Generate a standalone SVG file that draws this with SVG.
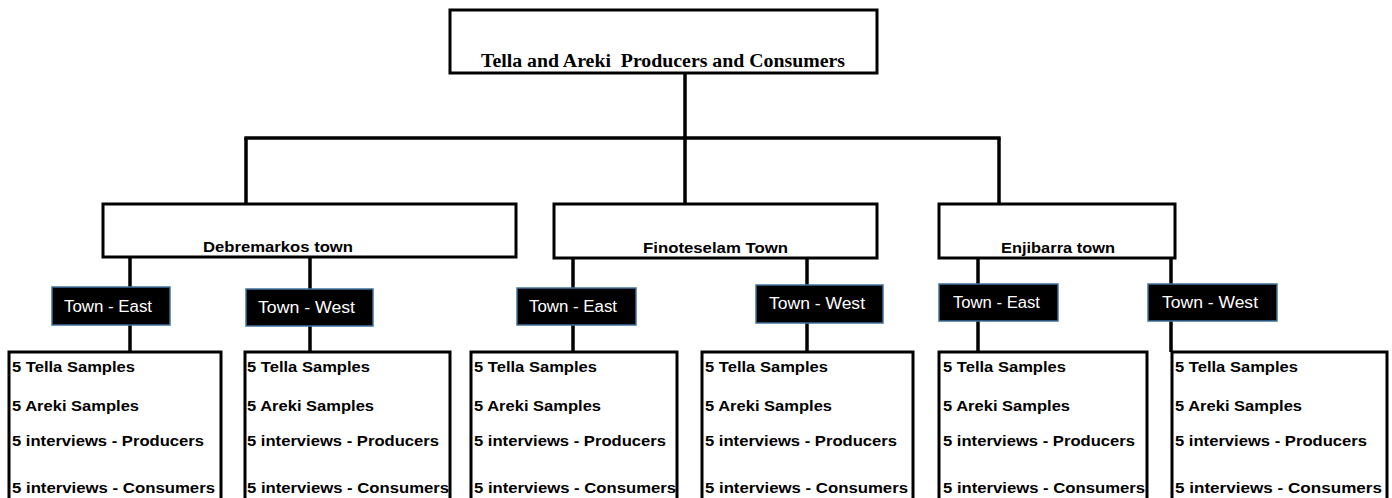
<svg xmlns="http://www.w3.org/2000/svg" width="1392" height="498" viewBox="0 0 1392 498">
<style>
.box{fill:#fff;stroke:#000;stroke-width:3}
.tbox{fill:#000;stroke:#41719C;stroke-width:1.5}
.conn line{stroke:#000;stroke-width:3.5}
.title{font-family:"Liberation Serif",serif;font-weight:bold;font-size:18px;fill:#000}
.lbl{font-family:"Liberation Sans",Arial,sans-serif;font-weight:bold;font-size:15px;fill:#000}
.tlbl{font-family:"Liberation Sans",Arial,sans-serif;font-size:16px;fill:#fff}
</style>
<rect width="1392" height="498" fill="#fff"/>
<g id="connectors" class="conn">
<line x1="685" y1="73" x2="685" y2="204"/>
<line x1="244.3" y1="138" x2="1000.7" y2="138"/>
<line x1="246" y1="138" x2="246" y2="204"/>
<line x1="999" y1="138" x2="999" y2="204"/>
<line x1="130" y1="256" x2="130" y2="352"/>
<line x1="310" y1="256" x2="310" y2="352"/>
<line x1="573" y1="256" x2="573" y2="352"/>
<line x1="807" y1="256" x2="807" y2="352"/>
<line x1="978" y1="256" x2="978" y2="352"/>
<line x1="1171" y1="256" x2="1171" y2="352"/>
</g>
<g id="root">
<rect class="box" x="450" y="10" width="427" height="63"/>
<text class="title" x="481" y="67" textLength="364" lengthAdjust="spacingAndGlyphs" xml:space="preserve">Tella and Areki  Producers and Consumers</text>
</g>
<g id="debremarkos">
<rect class="box" x="103" y="204" width="413" height="53"/>
<text class="lbl" x="203" y="252" font-size="16" textLength="150" lengthAdjust="spacingAndGlyphs">Debremarkos town</text>
</g>
<g id="finoteselam">
<rect class="box" x="554" y="204" width="323" height="54"/>
<text class="lbl" x="643" y="253" font-size="16" textLength="145" lengthAdjust="spacingAndGlyphs">Finoteselam Town</text>
</g>
<g id="enjibarra">
<rect class="box" x="939" y="204" width="236" height="54"/>
<text class="lbl" x="1001" y="253" font-size="16" textLength="114" lengthAdjust="spacingAndGlyphs">Enjibarra town</text>
</g>
<g id="d-east">
<rect class="tbox" x="52" y="287" width="118" height="38"/>
<text class="tlbl" x="64" y="312" textLength="88" lengthAdjust="spacingAndGlyphs">Town - East</text>
</g>
<g id="d-west">
<rect class="tbox" x="246" y="289" width="127" height="37"/>
<text class="tlbl" x="258" y="313" textLength="97" lengthAdjust="spacingAndGlyphs">Town - West</text>
</g>
<g id="f-east">
<rect class="tbox" x="517" y="288" width="119" height="37"/>
<text class="tlbl" x="529" y="312" textLength="88" lengthAdjust="spacingAndGlyphs">Town - East</text>
</g>
<g id="f-west">
<rect class="tbox" x="756" y="285" width="127" height="38"/>
<text class="tlbl" x="769" y="309" textLength="96" lengthAdjust="spacingAndGlyphs">Town - West</text>
</g>
<g id="e-east">
<rect class="tbox" x="939" y="284" width="119" height="37"/>
<text class="tlbl" x="953" y="308" textLength="87" lengthAdjust="spacingAndGlyphs">Town - East</text>
</g>
<g id="e-west">
<rect class="tbox" x="1148" y="284" width="129" height="37"/>
<text class="tlbl" x="1162" y="308" textLength="96" lengthAdjust="spacingAndGlyphs">Town - West</text>
</g>
<g id="s1">
<rect class="box" x="9" y="352" width="212" height="160"/>
<text class="lbl" x="12" y="372" textLength="123" lengthAdjust="spacingAndGlyphs">5 Tella Samples</text>
<text class="lbl" x="12" y="411" textLength="127" lengthAdjust="spacingAndGlyphs">5 Areki Samples</text>
<text class="lbl" x="12" y="446" textLength="192" lengthAdjust="spacingAndGlyphs">5 interviews - Producers</text>
<text class="lbl" x="12" y="493" textLength="203" lengthAdjust="spacingAndGlyphs">5 interviews - Consumers</text>
</g>
<g id="s2">
<rect class="box" x="245" y="352" width="205" height="160"/>
<text class="lbl" x="247" y="372" textLength="123" lengthAdjust="spacingAndGlyphs">5 Tella Samples</text>
<text class="lbl" x="247" y="411" textLength="127" lengthAdjust="spacingAndGlyphs">5 Areki Samples</text>
<text class="lbl" x="247" y="446" textLength="192" lengthAdjust="spacingAndGlyphs">5 interviews - Producers</text>
<text class="lbl" x="247" y="493" textLength="202" lengthAdjust="spacingAndGlyphs">5 interviews - Consumers</text>
</g>
<g id="s3">
<rect class="box" x="471" y="352" width="206" height="160"/>
<text class="lbl" x="474" y="372" textLength="123" lengthAdjust="spacingAndGlyphs">5 Tella Samples</text>
<text class="lbl" x="474" y="411" textLength="127" lengthAdjust="spacingAndGlyphs">5 Areki Samples</text>
<text class="lbl" x="474" y="446" textLength="192" lengthAdjust="spacingAndGlyphs">5 interviews - Producers</text>
<text class="lbl" x="474" y="493" textLength="202" lengthAdjust="spacingAndGlyphs">5 interviews - Consumers</text>
</g>
<g id="s4">
<rect class="box" x="702" y="352" width="211" height="160"/>
<text class="lbl" x="705" y="372" textLength="123" lengthAdjust="spacingAndGlyphs">5 Tella Samples</text>
<text class="lbl" x="705" y="411" textLength="127" lengthAdjust="spacingAndGlyphs">5 Areki Samples</text>
<text class="lbl" x="705" y="446" textLength="192" lengthAdjust="spacingAndGlyphs">5 interviews - Producers</text>
<text class="lbl" x="705" y="493" textLength="203" lengthAdjust="spacingAndGlyphs">5 interviews - Consumers</text>
</g>
<g id="s5">
<rect class="box" x="939" y="352" width="208" height="160"/>
<text class="lbl" x="943" y="372" textLength="123" lengthAdjust="spacingAndGlyphs">5 Tella Samples</text>
<text class="lbl" x="943" y="411" textLength="127" lengthAdjust="spacingAndGlyphs">5 Areki Samples</text>
<text class="lbl" x="943" y="446" textLength="192" lengthAdjust="spacingAndGlyphs">5 interviews - Producers</text>
<text class="lbl" x="943" y="493" textLength="202" lengthAdjust="spacingAndGlyphs">5 interviews - Consumers</text>
</g>
<g id="s6">
<rect class="box" x="1172" y="352" width="215" height="160"/>
<text class="lbl" x="1175" y="372" textLength="123" lengthAdjust="spacingAndGlyphs">5 Tella Samples</text>
<text class="lbl" x="1175" y="411" textLength="127" lengthAdjust="spacingAndGlyphs">5 Areki Samples</text>
<text class="lbl" x="1175" y="446" textLength="192" lengthAdjust="spacingAndGlyphs">5 interviews - Producers</text>
<text class="lbl" x="1175" y="493" textLength="207" lengthAdjust="spacingAndGlyphs">5 interviews - Consumers</text>
</g>
</svg>
